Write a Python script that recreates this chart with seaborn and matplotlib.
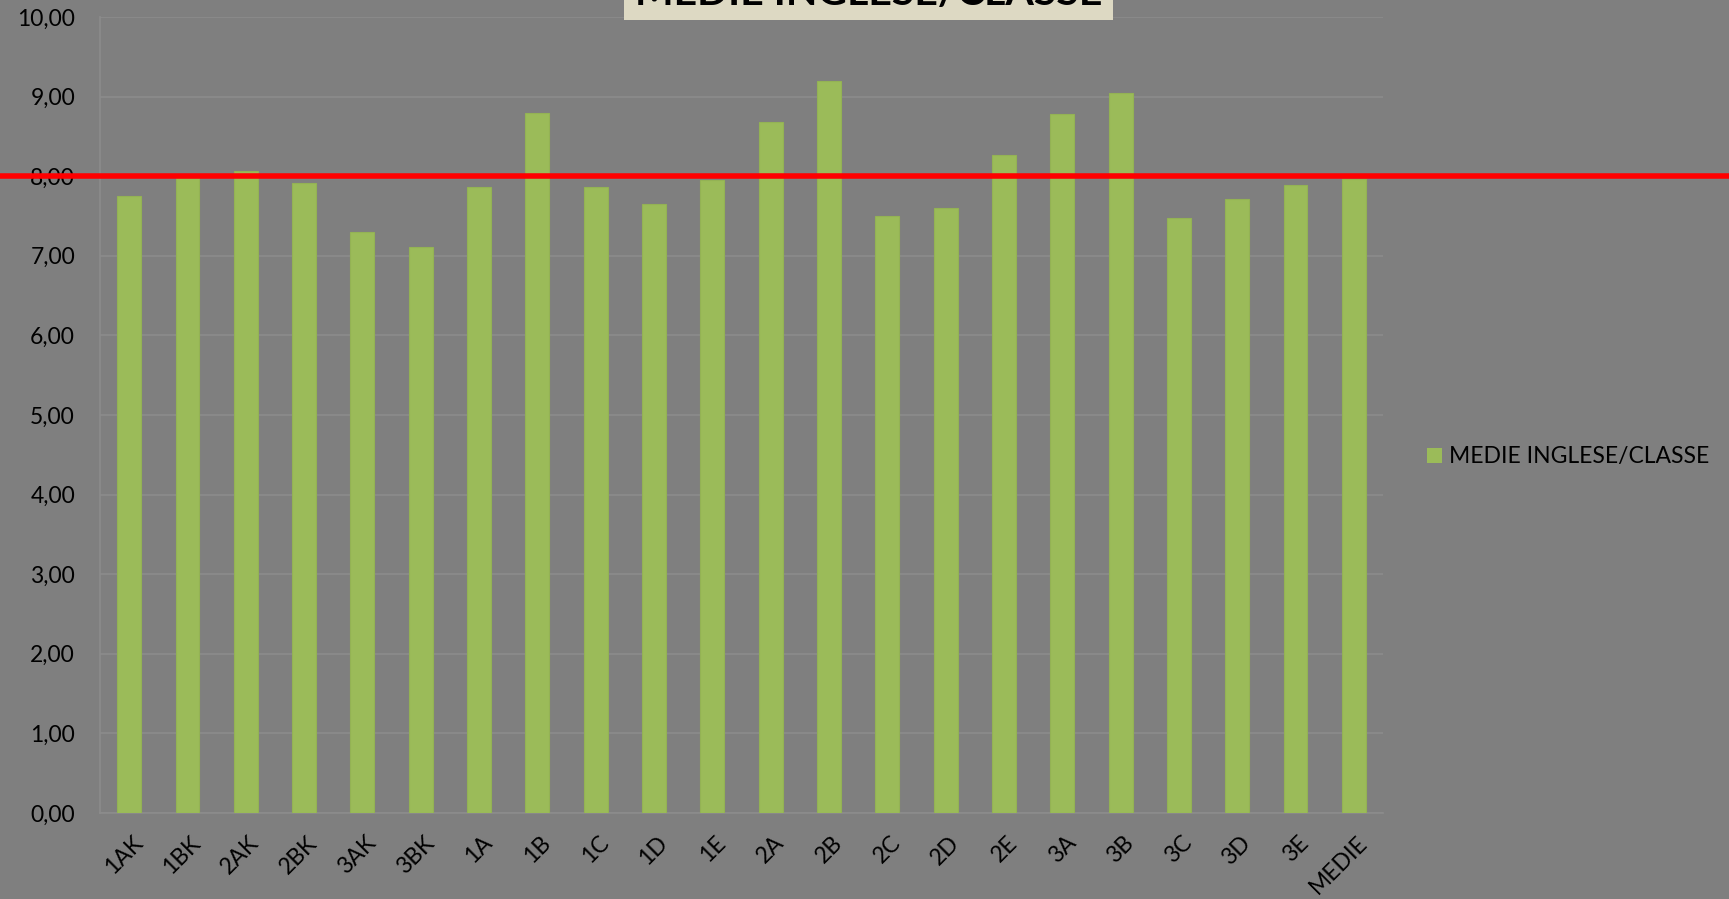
import matplotlib
matplotlib.use("Agg")
import matplotlib.pyplot as plt
import matplotlib.transforms as mtransforms
from matplotlib.patches import Patch, Rectangle
import seaborn as sns
import pandas as pd

# ---- data ----
classes = ["1AK", "1BK", "2AK", "2BK", "3AK", "3BK", "1A", "1B", "1C", "1D", "1E",
           "2A", "2B", "2C", "2D", "2E", "3A", "3B", "3C", "3D", "3E", "MEDIE"]
medie = [7.75, 7.98, 8.07, 7.92, 7.30, 7.11, 7.87, 8.79, 7.86, 7.65, 7.95,
         8.68, 9.19, 7.50, 7.60, 8.27, 8.78, 9.05, 7.47, 7.71, 7.89, 7.97]
series_name = "MEDIE INGLESE/CLASSE"
title = "MEDIE INGLESE/CLASSE"
threshold = 8.0
y_ticks = [0, 1, 2, 3, 4, 5, 6, 7, 8, 9, 10]

BG = "#7f7f7f"
BAR = "#9bbb59"
GRID = "#8c8c8c"

sns.set_theme(style="white")
plt.rcParams["font.family"] = ["Lato", "DejaVu Sans"]

W, H = 1729, 899
fig = plt.figure(figsize=(W / 100, H / 100), dpi=100, facecolor=BG)
ax = fig.add_axes([100 / W, 86 / H, (1383 - 100) / W, (813 - 17) / H])
ax.set_facecolor(BG)

df = pd.DataFrame({"classe": classes, "media": medie})
sns.barplot(data=df, x="classe", y="media", color=BAR, saturation=1,
            width=0.41, ax=ax, edgecolor="#93b254", linewidth=0.8, zorder=3)

ax.set_ylim(y_ticks[0], y_ticks[-1])
ax.set_xlim(-0.5, len(classes) - 0.5)
ax.set_yticks(y_ticks)
ax.set_yticklabels([f"{v:.2f}".replace(".", ",") for v in y_ticks])
ax.set_xlabel("")
ax.set_ylabel("")

ax.yaxis.grid(True, color=GRID, linewidth=1.2, zorder=0)
ax.set_axisbelow(True)
for s in ["top", "right"]:
    ax.spines[s].set_visible(False)
for s in ["left", "bottom"]:
    ax.spines[s].set_color(GRID)
    ax.spines[s].set_linewidth(1.2)

ax.tick_params(axis="y", length=0, pad=18, labelsize=16.5, labelcolor="black")
ax.tick_params(axis="x", which="major", length=0, pad=19, labelsize=16.5, labelcolor="black")
ax.set_xticks([i + 0.5 for i in range(-1, len(classes))], minor=True)
ax.tick_params(axis="x", which="minor", length=9, width=1.2, color=GRID, direction="out")

offset = mtransforms.ScaledTranslation(10 / 100, 0, fig.dpi_scale_trans)
for lab in ax.get_xticklabels():
    lab.set_rotation(45)
    lab.set_ha("right")
    lab.set_va("center")
    lab.set_rotation_mode("anchor")
    lab.set_transform(lab.get_transform() + offset)

# red reference line across the whole figure width
ax_w = 1383 - 100
ax.axhline(threshold, xmin=-100 / ax_w, xmax=(W - 100) / ax_w, color="#ff0000",
           linewidth=4, clip_on=False, zorder=5)

# legend
handle = Patch(facecolor=BAR, edgecolor="none", label=series_name)
fig.legend(handles=[handle], loc="center left",
           bbox_to_anchor=(1427 / W, 1 - 457 / H), frameon=False,
           fontsize=16.5, handlelength=0.65, handleheight=0.65,
           handletextpad=0.3, borderpad=0, borderaxespad=0, labelcolor="black")

# title box (mostly cut off at top, as in the original)
fig.patches.append(Rectangle((624 / W, 1 - 20 / H), (1113 - 624) / W, 20 / H + 0.01,
                             transform=fig.transFigure, facecolor="#ddd9c3",
                             edgecolor="none", zorder=4))
fig.text((624 + 1113) / 2 / W, 1 - 5 / H, title, ha="center", va="baseline",
         fontsize=29.5, fontweight="bold", color="black", zorder=5)

fig.savefig("out.png", dpi=100, facecolor=BG)
